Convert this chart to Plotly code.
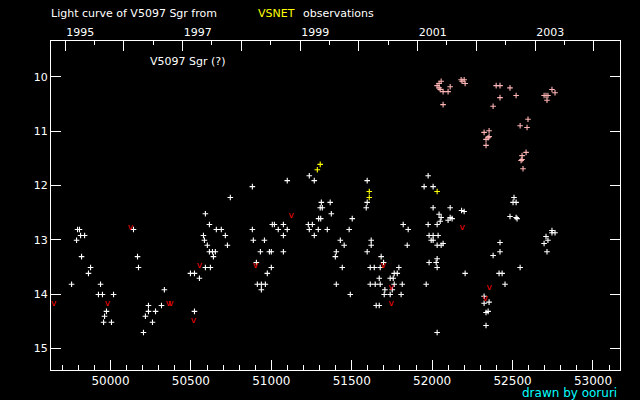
import plotly.graph_objects as go

# JD - 2400000 and magnitude
vis_jd = [49795, 49807, 49814, 49839, 49789, 49820, 49876, 49863, 49758, 49938,
          49925, 49950, 50019, 49975, 49963, 49957, 50006, 50168, 50174, 50143,
          50335, 50236, 50317, 50236, 50280, 50217, 50261, 50205, 50522, 50745,
          50590, 50615, 50658, 50689, 50578, 50714, 50584, 50727, 50602, 50615,
          50634, 50652, 50640, 50590, 50621, 50497, 50522, 50553,
          50882, 51236, 51099, 51267, 51596, 51311, 51366, 51596, 51304, 51317,
          51590, 51373, 51294, 51307, 51503, 51006, 51019, 51075, 51230, 51255,
          51820, 50882, 51043, 51099, 51236, 51292, 51348, 51484, 51851, 51075,
          51267, 50888, 50957, 51429, 51621, 51453, 51621, 51845, 50932, 50988,
          51000, 51075, 51404, 51596, 51398, 51683, 50907, 51698, 51000, 51441,
          51615, 51640, 51677, 51793, 50975, 51764, 51783, 51671, 51739, 51758,
          50913, 50938, 50963, 51404, 51615, 51646, 51677, 51764, 51814, 50938,
          51706, 51752, 51491, 51702, 51739, 51807, 51652, 51671,
          51975, 51950, 52006, 52006, 52112, 52043, 52056, 52050, 52031, 51975,
          52099, 52112, 52124, 52183, 52199, 51981, 52006, 52037, 51994, 52006,
          52068, 52056, 52031, 52031, 51981, 52025, 52031, 52205, 51963, 52031,
          52509, 52503, 52522, 52484, 52522, 52528, 52745, 52764, 52745, 52708,
          52720, 52696, 52714, 52422, 52422, 52379, 52547, 52416, 52435, 52453,
          52323, 52354, 52323, 52335, 52348, 52335]
vis_mag = [12.81, 12.81, 12.92, 12.92, 13.01, 13.31, 13.51, 13.62, 13.82, 13.82,
           14.01, 14.01, 14.01, 14.32, 14.41, 14.52, 14.52, 13.31, 13.51, 12.81,
           13.92, 14.21, 14.21, 14.32, 14.32, 14.41, 14.52, 14.71, 14.32, 12.22,
           12.52, 12.72, 12.81, 12.81, 12.92, 12.92, 13.01, 13.10, 13.10, 13.22,
           13.22, 13.22, 13.31, 13.51, 13.51, 13.62, 13.62, 13.71,
           12.02, 11.82, 11.91, 11.91, 11.91, 12.31, 12.31, 12.31, 12.41, 12.41,
           12.41, 12.52, 12.61, 12.61, 12.61, 12.72, 12.72, 12.72, 12.72, 12.72,
           12.72, 12.81, 12.81, 12.81, 12.81, 12.81, 12.81, 12.81, 12.81, 12.92,
           12.92, 13.01, 13.01, 13.01, 13.01, 13.10, 13.10, 13.10, 13.22, 13.22,
           13.22, 13.22, 13.22, 13.22, 13.31, 13.31, 13.42, 13.42, 13.51, 13.51,
           13.51, 13.51, 13.51, 13.51, 13.62, 13.62, 13.62, 13.71, 13.71, 13.71,
           13.82, 13.82, 13.82, 13.82, 13.82, 13.82, 13.82, 13.82, 13.82, 13.92,
           13.92, 13.92, 14.01, 14.01, 14.01, 14.01, 14.21, 14.21,
           11.82, 12.02, 12.02, 12.41, 12.41, 12.53, 12.59, 12.66, 12.72, 12.72,
           12.64, 12.59, 12.61, 12.46, 12.48, 12.92, 12.92, 12.92, 13.01, 13.01,
           13.07, 13.10, 13.10, 13.35, 13.42, 13.42, 13.51, 13.62, 13.82, 14.71,
           12.22, 12.31, 12.31, 12.57, 12.59, 12.61, 12.83, 12.87, 12.87, 12.94,
           13.01, 13.07, 13.22, 13.05, 13.22, 13.29, 13.51, 13.62, 13.62, 13.82,
           14.04, 14.15, 14.17, 14.34, 14.32, 14.58]

pink_jd = [52031, 52043, 52056, 52043, 52050, 52068, 52099, 52112, 52068, 52180,
           52199, 52186, 52205, 52398, 52422, 52484, 52522, 52422, 52379, 52696,
           52708, 52720, 52745, 52764, 52714, 52596, 52547, 52590, 52323, 52354,
           52354, 52348, 52335, 52335, 52584, 52559, 52553, 52559, 52565]
pink_mag = [10.16, 10.12, 10.08, 10.20, 10.23, 10.27, 10.27, 10.18, 10.51, 10.05,
            10.05, 10.08, 10.12, 10.16, 10.16, 10.20, 10.34, 10.38, 10.54, 10.34,
            10.34, 10.34, 10.23, 10.29, 10.43, 10.78, 10.90, 10.93, 11.02, 10.99,
            11.10, 11.12, 11.15, 11.26, 11.39, 11.45, 11.54, 11.52, 11.69]

yel_jd = [51304, 51286, 51609, 51609, 52031]
yel_mag = [11.61, 11.71, 12.11, 12.22, 12.11]

# fainter-than observations
lim_jd = [49646, 49981, 50360, 50375, 50124, 50553, 50516, 51124, 50901, 51696,
          51745, 51745, 52186, 52354, 52329]
lim_mag = [14.17, 14.17, 14.17, 14.17, 12.77, 13.47, 14.49, 12.55, 13.47, 13.47,
           13.88, 14.17, 12.77, 13.88, 14.08]

year_jd = [49718.5, 50083.5, 50449.5, 50814.5, 51179.5, 51544.5, 51910.5,
           52275.5, 52640.5, 53005.5]
year_lbl = ["1995", "", "1997", "", "1999", "", "2001", "", "2003", ""]
half_year_jd = [49900, 50266, 50631, 50996, 51361, 51727, 52092, 52457, 52822]
mag_ticks = [10, 11, 12, 13, 14, 15]

FONT = "DejaVu Sans"
xr = [49630, 53168]


def cross(color):
    return dict(symbol="cross-thin-open", size=4, color=color,
                line=dict(color=color, width=1.1))


fig = go.Figure()
fig.add_trace(go.Scatter(x=vis_jd, y=vis_mag, mode="markers", marker=cross("white")))
fig.add_trace(go.Scatter(x=pink_jd, y=pink_mag, mode="markers", marker=cross("#ffb4b4")))
fig.add_trace(go.Scatter(x=yel_jd, y=yel_mag, mode="markers", marker=cross("#ffff00")))
fig.add_trace(go.Scatter(x=lim_jd, y=lim_mag, mode="text", text=["v"] * len(lim_jd),
                         textposition="middle center",
                         textfont=dict(family=FONT, size=9, color="#ff0000")))
# carries the year axis on top
fig.add_trace(go.Scatter(x=[year_jd[0]], y=[mag_ticks[0]], xaxis="x2", mode="markers",
                         marker=dict(opacity=0), hoverinfo="skip"))

fig.update_layout(
    width=640, height=400,
    paper_bgcolor="black", plot_bgcolor="black",
    margin=dict(l=51, r=20, t=41, b=30, pad=0),
    showlegend=False,
    font=dict(family=FONT, color="white", size=11),
    xaxis=dict(range=xr, tickmode="linear", tick0=50000, dtick=500, tickformat="d",
               ticks="inside", ticklen=10, tickwidth=1, tickcolor="white",
               showline=True, linecolor="white", linewidth=1, mirror=True,
               showgrid=False, zeroline=False,
               tickfont=dict(size=12, color="white"),
               minor=dict(tick0=50000, dtick=100, ticks="inside", ticklen=5,
                          tickcolor="white", showgrid=False)),
    xaxis2=dict(range=xr, overlaying="x", side="top", tickmode="array",
                tickvals=year_jd, ticktext=year_lbl, ticklabelposition="outside right",
                ticks="inside", ticklen=10, tickwidth=1, tickcolor="white",
                showline=True, linecolor="white", linewidth=1,
                showgrid=False, zeroline=False,
                tickfont=dict(size=11, color="white"),
                minor=dict(tickmode="array", tickvals=half_year_jd, ticks="inside",
                           ticklen=4, tickcolor="white", showgrid=False)),
    yaxis=dict(range=[15.40, 9.337], tickmode="array", tickvals=mag_ticks,
               ticks="inside", ticklen=10, tickwidth=1, tickcolor="white",
               showline=True, linecolor="white", linewidth=1, mirror="ticks",
               showgrid=False, zeroline=False,
               tickfont=dict(size=11, color="white")),
)


def px2paper(px, py):
    return (px - 51) / 569, (370 - py) / 329


notes = [
    ("Light curve of V5097 Sgr from", 50, 13, "left", "white", 11),
    ("VSNET", 257, 13, "left", "#ffff00", 11),
    ("observations", 302, 13, "left", "white", 11),
    ("V5097 Sgr (?)", 149, 61, "left", "white", 11),
    ("drawn by ooruri", 618, 393, "right", "#00ffff", 12),
]
for txt, px, py, anchor, col, sz in notes:
    ax, ay = px2paper(px, py)
    fig.add_annotation(text=txt, x=ax, y=ay, xref="paper", yref="paper",
                       xanchor=anchor, yanchor="middle", showarrow=False,
                       borderpad=0, font=dict(family=FONT, size=sz, color=col))

fig.write_html("out.html", config={"displayModeBar": False},
               post_script="document.body.style.margin='0';")
